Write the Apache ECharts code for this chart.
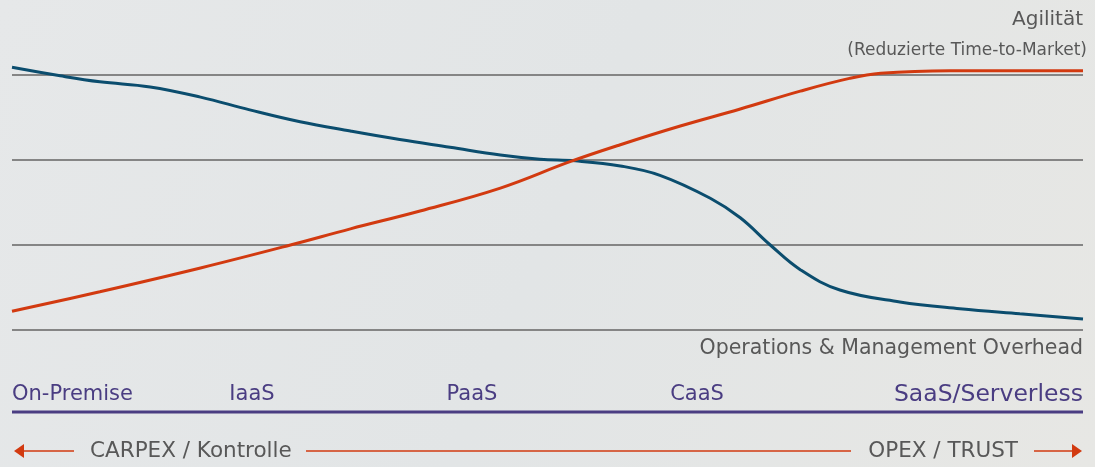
<!DOCTYPE html>
<html>
<head>
<meta charset="utf-8">
<style>
    html, body { margin: 0; padding: 0; }
    #chart { width: 1095px; height: 467px; }
</style>
<script src="https://cdn.jsdelivr.net/npm/echarts@6/dist/echarts.min.js"></script>
</head>
<body>
<div id="chart"></div>
<script>
// Phasen auf der x-Achse
const categories = ['On-Premise', 'IaaS', 'PaaS', 'CaaS', 'SaaS/Serverless'];
// x-Position 0..100, y-Wert 0..3
const overheadX = [0, 4.5, 8.2, 12.9, 17.6, 22.2, 26.9, 31.6, 36.2, 40.9, 45.6, 49.3, 52.6, 56.8, 60.5, 65.2, 68.0, 70.8, 73.6, 77.3, 82.9, 88.5, 94.1, 100];
const overheadY = [3.09, 2.99, 2.92, 2.86, 2.74, 2.59, 2.45, 2.34, 2.24, 2.15, 2.06, 2.01, 1.99, 1.93, 1.82, 1.55, 1.32, 1.0, 0.71, 0.47, 0.33, 0.25, 0.19, 0.13];
const agilityX = [0, 8.2, 17.6, 26.0, 31.6, 38.1, 45.6, 52.1, 56.8, 62.4, 68.0, 73.6, 78.2, 81.1, 87.6, 100];
const agilityY = [0.22, 0.45, 0.73, 1.0, 1.19, 1.4, 1.67, 1.98, 2.18, 2.4, 2.6, 2.81, 2.96, 3.02, 3.05, 3.05];
const yTicks = [0, 1, 2, 3];

const chart = echarts.init(document.getElementById('chart'));

const zip = (xs, ys) => xs.map((x, i) => [x, ys[i]]);
const textColor = '#585858';
const purple = '#4a3d82';
const orange = '#d23a10';
const font = 'DejaVu Sans';

const option = {
    backgroundColor: {
        type: 'linear', x: 0, y: 0, x2: 1, y2: 1,
        colorStops: [
            { offset: 0, color: '#e6e8e9' },
            { offset: 0.5, color: '#e2e5e6' },
            { offset: 1, color: '#e7e7e4' }
        ]
    },
    animation: false,
    grid: { left: 12, right: 12, top: 75, bottom: 137 },
    xAxis: {
        type: 'value', min: 0, max: 100, show: false
    },
    yAxis: {
        type: 'value', min: yTicks[0], max: yTicks[yTicks.length - 1], interval: 1,
        axisLabel: { show: false },
        axisLine: { show: false },
        axisTick: { show: false },
        splitLine: { lineStyle: { color: '#858585', width: 2 } }
    },
    series: [
        {
            name: 'Operations & Management Overhead',
            type: 'line', smooth: 0.4, symbol: 'none', clip: false,
            lineStyle: { color: '#0b4d6e', width: 3 },
            data: zip(overheadX, overheadY)
        },
        {
            name: 'Agilität',
            type: 'line', smooth: 0.4, symbol: 'none', clip: false,
            lineStyle: { color: orange, width: 3 },
            data: zip(agilityX, agilityY)
        }
    ],
    graphic: []
};

chart.setOption(option);

// Texte und Pfeile
const g = [];
const txt = (x, y, text, size, color, align) => g.push({
    type: 'text', x: x, y: y, silent: true,
    style: { text: text, fill: color, font: size + 'px "' + font + '"', align: align, verticalAlign: 'middle' }
});
txt(1083, 20, 'Agilität', 20, textColor, 'right');
txt(1087, 51, '(Reduzierte Time-to-Market)', 17, textColor, 'right');
txt(1083, 349, 'Operations & Management Overhead', 20.5, textColor, 'right');

// Kategorien
const catPos = [[12, 'left'], [252, 'center'], [472, 'center'], [697, 'center'], [1083, 'right']];
categories.forEach((c, i) => {
    const size = i === categories.length - 1 ? 23.5 : 21;
    txt(catPos[i][0], 395, c, size, purple, catPos[i][1]);
});
g.push({ type: 'line', silent: true, shape: { x1: 12, y1: 412, x2: 1083, y2: 412 }, style: { stroke: purple, lineWidth: 3 } });

// unterer Pfeil
txt(90, 451, 'CARPEX / Kontrolle', 21.5, textColor, 'left');
txt(1018, 451, 'OPEX / TRUST', 21.5, textColor, 'right');
const seg = (x1, x2) => g.push({ type: 'line', silent: true, shape: { x1: x1, y1: 451, x2: x2, y2: 451 }, style: { stroke: orange, lineWidth: 1.5 } });
seg(20, 74); seg(306, 851); seg(1034, 1076);
g.push({ type: 'polygon', silent: true, shape: { points: [[14, 451], [24, 444], [24, 458]] }, style: { fill: orange } });
g.push({ type: 'polygon', silent: true, shape: { points: [[1082, 451], [1072, 444], [1072, 458]] }, style: { fill: orange } });

chart.setOption({ graphic: g });
</script>
</body>
</html>
